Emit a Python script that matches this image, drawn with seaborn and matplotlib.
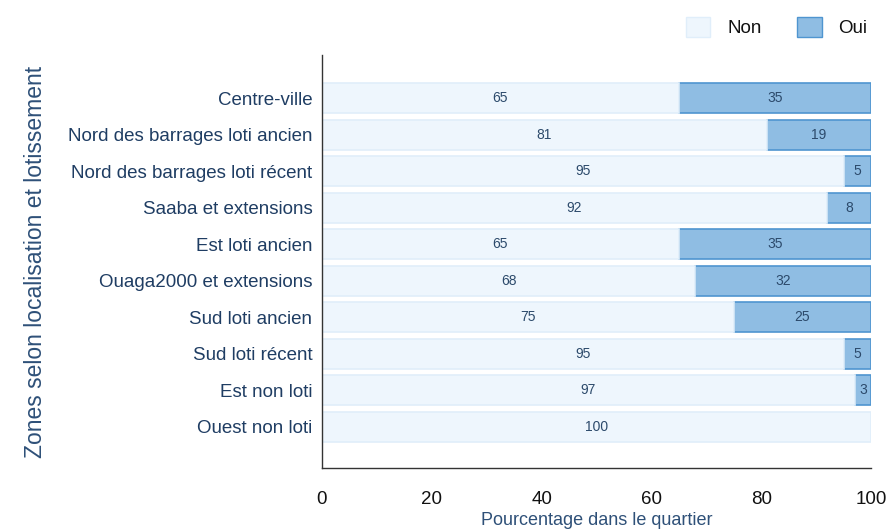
import pandas as pd
import matplotlib
matplotlib.use("Agg")
import matplotlib.pyplot as plt
import matplotlib.patches as mpatches
import seaborn as sns

zones = ["Centre-ville", "Nord des barrages loti ancien", "Nord des barrages loti récent",
         "Saaba et extensions", "Est loti ancien", "Ouaga2000 et extensions",
         "Sud loti ancien", "Sud loti récent", "Est non loti", "Ouest non loti"]
non = [65, 81, 95, 92, 65, 68, 75, 95, 97, 100]
oui = [35, 19, 5, 8, 35, 32, 25, 5, 3, 0]

df = pd.DataFrame({"zone": zones, "Non": non, "Oui": oui})

sns.set_style("white")
plt.rcParams["font.family"] = ["Liberation Sans", "DejaVu Sans"]

c_non, e_non = "#EEF6FD", "#E0EEFA"
c_oui, e_oui = "#8FBDE3", "#4F95D0"
txt = "#2C4A6B"

fig = plt.figure(figsize=(8.87, 5.31), dpi=100)
ax = fig.add_axes([0.363, 0.119, 0.619, 0.777])

# Oui bars, shifted so they start where Non ends
sns.barplot(data=df, y="zone", x="Oui", orient="h", color=c_oui, edgecolor=e_oui,
            linewidth=1.2, width=0.82, saturation=1, ax=ax)
oui_bars = list(ax.patches)
for p, n in zip(oui_bars, df["Non"]):
    p.set_x(n)
    if p.get_width() == 0:
        p.set_visible(False)
sns.barplot(data=df, y="zone", x="Non", orient="h", color=c_non, edgecolor=e_non,
            linewidth=1.2, width=0.82, saturation=1, ax=ax)

for i, row in df.iterrows():
    ax.text(row["Non"] / 2, i, f"{row['Non']}", ha="center", va="center",
            fontsize=10, color=txt)
    if row["Oui"] > 0:
        ax.text(row["Non"] + row["Oui"] / 2, i, f"{row['Oui']}", ha="center",
                va="center", fontsize=10, color=txt)

ax.set_xlim(0, 100)
ax.set_ylim(10.12, -1.18)
ax.set_xticks([0, 20, 40, 60, 80, 100])
ax.tick_params(axis="x", length=0, pad=17, labelsize=13.5, labelcolor="#111111")
ax.tick_params(axis="y", length=0, pad=7, labelsize=13.5, labelcolor="#1F3D63")
for s in ["top", "right"]:
    ax.spines[s].set_visible(False)
for s in ["left", "bottom"]:
    ax.spines[s].set_color("#333333")
    ax.spines[s].set_linewidth(1.0)

ax.set_xlabel("Pourcentage dans le quartier", fontsize=13, color="#2E5078")
ax.set_ylabel("Zones selon localisation et lotissement", fontsize=16.5, color="#2E5078")
ax.yaxis.set_label_coords(-0.50, 0.5)
ax.xaxis.set_label_coords(0.5, -0.108)

handles = [mpatches.Patch(facecolor=c_non, edgecolor=e_non, label="Non"),
           mpatches.Patch(facecolor=c_oui, edgecolor=e_oui, label="Oui")]
fig.legend(handles=handles, loc="upper right", bbox_to_anchor=(0.997, 1.0), ncol=2,
           frameon=False, fontsize=13.5, handlelength=1.3, handleheight=1.3,
           columnspacing=1.9, handletextpad=0.9, labelcolor="#111111")

fig.savefig("out.png", dpi=100)
